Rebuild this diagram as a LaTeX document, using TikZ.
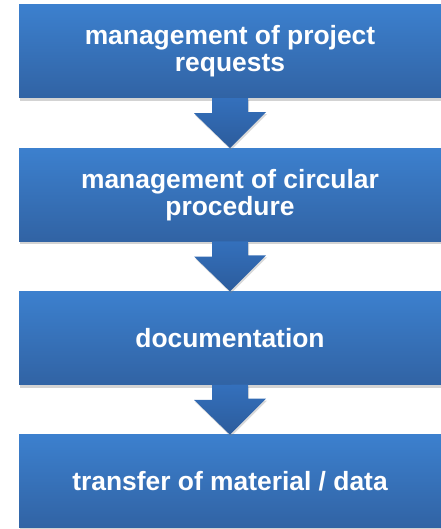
\documentclass[tikz,border=0pt]{standalone}
\usepackage{fontspec}
\setmainfont{Liberation Sans}
\usetikzlibrary{shadows}

\definecolor{boxtop}{RGB}{60,128,206}
\definecolor{boxbot}{RGB}{49,99,164}
\definecolor{arrtop}{RGB}{52,112,188}
\definecolor{arrbot}{RGB}{44,92,156}

\begin{document}
\begin{tikzpicture}
  [x=1pt,y=1pt,
   every node/.style={rectangle,minimum width=422pt,minimum height=93pt,inner sep=0pt,
     top color=boxtop,bottom color=boxbot,align=center,text=white,
     font=\fontsize{26.4}{27}\selectfont\bfseries,
     drop shadow={shadow xshift=1pt,shadow yshift=-3pt,opacity=.35}},
   flowarrow/.style={top color=arrtop,bottom color=arrbot,
     drop shadow={shadow xshift=1pt,shadow yshift=-2pt,opacity=.3}}]
  \useasboundingbox (0,0) rectangle (440,-529);
  \node (req) at (230,-51.5) {management of project\\requests};
  \node (circ) at (230,-194.8) {management of circular\\procedure};
  \node (doc) at (230,-338.1) {documentation};
  \node (trans) at (230,-481.4) {transfer of material / data};

  \foreach \from/\to in {req/circ,circ/doc,doc/trans}
    \path[flowarrow] (\from.south) ++(-18,0) -- ++(0,-15) -- ++(-18,0) -- (\to.north)
      -- ++(36,36) -- ++(-18,0) -- ++(0,14) -- cycle;

\end{tikzpicture}
\end{document}
